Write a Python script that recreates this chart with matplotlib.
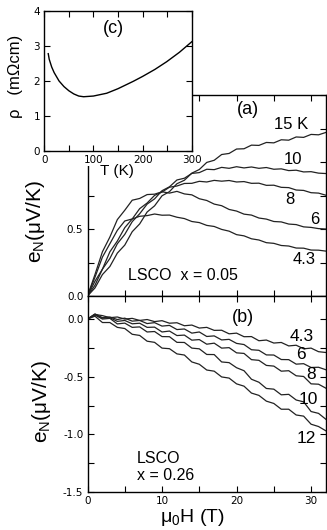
import matplotlib
matplotlib.use('Agg')
from matplotlib import pyplot as plt
from matplotlib.patches import Rectangle
from matplotlib.ticker import MultipleLocator

plt.rcParams['font.family'] = ['Liberation Sans', 'DejaVu Sans']
plt.rcParams['axes.unicode_minus'] = False
plt.rcParams['mathtext.default'] = 'regular'

# field values in tesla, 1 T steps
H = list(range(0, 33))

# panel (a): LSCO x = 0.05, e_N in uV/K
eN_a = {
    '4.3': [0, 0.14, 0.29, 0.39, 0.49, 0.56, 0.575, 0.595, 0.60, 0.612, 0.603, 0.604, 0.588, 0.578, 0.556, 0.548, 0.527,
            0.519, 0.497, 0.484, 0.458, 0.449, 0.427, 0.418, 0.398, 0.393, 0.377, 0.373, 0.358, 0.357, 0.343, 0.342, 0.335],
    '6':   [0, 0.16, 0.33, 0.44, 0.57, 0.64, 0.715, 0.728, 0.757, 0.76, 0.778, 0.768, 0.781, 0.762, 0.755, 0.726, 0.713,
            0.686, 0.674, 0.646, 0.634, 0.611, 0.604, 0.582, 0.574, 0.556, 0.553, 0.537, 0.533, 0.516, 0.512, 0.503, 0.50],
    '8':   [0, 0.11, 0.20, 0.33, 0.41, 0.51, 0.575, 0.652, 0.694, 0.751, 0.776, 0.812, 0.821, 0.84, 0.841, 0.856, 0.851,
            0.863, 0.857, 0.862, 0.851, 0.854, 0.841, 0.842, 0.826, 0.827, 0.811, 0.809, 0.791, 0.788, 0.771, 0.768, 0.752],
    '10':  [0, 0.08, 0.20, 0.28, 0.39, 0.46, 0.555, 0.614, 0.686, 0.725, 0.786, 0.815, 0.866, 0.879, 0.915, 0.921, 0.946,
            0.943, 0.96, 0.953, 0.965, 0.956, 0.963, 0.953, 0.959, 0.946, 0.949, 0.936, 0.939, 0.926, 0.928, 0.917, 0.914],
    '15':  [0, 0.06, 0.16, 0.22, 0.32, 0.38, 0.48, 0.538, 0.627, 0.673, 0.748, 0.779, 0.838, 0.864, 0.917, 0.944, 0.997,
            1.013, 1.056, 1.064, 1.097, 1.099, 1.126, 1.124, 1.146, 1.143, 1.166, 1.163, 1.187, 1.184, 1.206, 1.203, 1.221],
}
labels_a = ['15 K', '10', '8', '6', '4.3']
labels_a_pos = [(27.3, 1.28), (27.6, 1.02), (27.2, 0.72), (30.5, 0.57), (29.0, 0.27)]

# panel (b): LSCO x = 0.26
eN_b = {
    '4.3': [0.0, 0.04, 0.03, 0.012, 0.018, 0.0, 0.006, -0.012, -0.004, -0.022, -0.014, -0.036, -0.032, -0.058, -0.052, -0.078, -0.072,
            -0.098, -0.097, -0.128, -0.122, -0.153, -0.152, -0.188, -0.182, -0.208, -0.203, -0.233, -0.227, -0.258, -0.252, -0.283, -0.29],
    '6':   [0.0, 0.045, 0.012, 0.018, -0.004, 0.008, -0.018, -0.012, -0.039, -0.031, -0.061, -0.055, -0.091, -0.086, -0.122, -0.112, -0.151,
            -0.146, -0.181, -0.176, -0.211, -0.221, -0.266, -0.271, -0.311, -0.312, -0.351, -0.352, -0.391, -0.387, -0.42, -0.418, -0.44],
    '8':   [0.0, 0.04, 0.008, 0.012, -0.02, -0.012, -0.041, -0.036, -0.072, -0.07, -0.112, -0.104, -0.143, -0.139, -0.183, -0.178, -0.218,
            -0.209, -0.252, -0.248, -0.293, -0.298, -0.352, -0.358, -0.402, -0.408, -0.452, -0.448, -0.492, -0.498, -0.562, -0.565, -0.60],
    '10':  [0.0, 0.035, 0.0, 0.006, -0.042, -0.035, -0.072, -0.068, -0.112, -0.108, -0.152, -0.153, -0.202, -0.203, -0.252, -0.258, -0.307,
            -0.308, -0.372, -0.378, -0.422, -0.448, -0.522, -0.548, -0.602, -0.608, -0.657, -0.653, -0.702, -0.718, -0.802, -0.818, -0.87],
    '12':  [0.0, 0.025, -0.03, -0.03, -0.072, -0.082, -0.132, -0.142, -0.192, -0.202, -0.252, -0.257, -0.302, -0.312, -0.372, -0.392, -0.442,
            -0.452, -0.502, -0.512, -0.562, -0.582, -0.642, -0.662, -0.712, -0.732, -0.782, -0.782, -0.832, -0.842, -0.912, -0.932, -0.97],
}
labels_b = ['4.3', '6', '8', '10', '12']
labels_b_pos = [(28.7, -0.155), (28.7, -0.31), (30.0, -0.48), (29.6, -0.70), (29.4, -1.035)]

# inset (c): resistivity vs T
T_c = [8, 10, 15, 20, 25, 30, 40, 50, 60, 70, 80, 100, 127, 150, 181, 200, 225, 249, 275, 300]
rho_c = [2.78, 2.62, 2.40, 2.24, 2.12, 2.0, 1.84, 1.72, 1.63, 1.57, 1.55, 1.57, 1.65, 1.78, 1.99, 2.13, 2.33, 2.55, 2.82, 3.12]


def style_ax(ax):
    for s in ax.spines.values():
        s.set_linewidth(1.0)
    ax.tick_params(which='both', direction='in', top=True, right=True,
                   length=4, width=0.8, labelsize=7.5, pad=3,
                   labelfontfamily='DejaVu Sans')


fig = plt.figure(figsize=(3.27, 5.30), dpi=100)

ax_a = fig.add_axes([0.2676, 0.4415, 0.7293, 0.3792])
ax_b = fig.add_axes([0.2676, 0.0717, 0.7293, 0.3698])

for k in eN_a:
    ax_a.plot(H, eN_a[k], color='#222222', lw=0.9)
for t, (x, y) in zip(labels_a, labels_a_pos):
    ax_a.text(x, y, t, fontsize=12, ha='center', va='center')
ax_a.text(21.5, 1.39, '(a)', fontsize=13, ha='center', va='center')
ax_a.text(5.4, 0.15, 'LSCO  x = 0.05', fontsize=11.5, ha='left', va='center')
ax_a.set_xlim(0, 32)
ax_a.set_ylim(0, 1.5)
ax_a.xaxis.set_major_locator(MultipleLocator(5))
ax_a.yaxis.set_minor_locator(MultipleLocator(0.25))
ax_a.set_yticks([0.0, 0.5, 1.0, 1.5])
ax_a.set_yticklabels(['0.0', '0.5', '1.0', '1.5'])
style_ax(ax_a)
ax_a.tick_params(labelbottom=False)
ax_a.set_ylabel('e$_N$(μV/K)', fontsize=15)
ax_a.yaxis.set_label_coords(-0.17, 0.37)

for k in eN_b:
    ax_b.plot(H, eN_b[k], color='#222222', lw=0.9)
for t, (x, y) in zip(labels_b, labels_b_pos):
    ax_b.text(x, y, t, fontsize=12.5, ha='center', va='center')
ax_b.text(20.8, 0.01, '(b)', fontsize=13, ha='center', va='center')
ax_b.text(6.6, -1.21, 'LSCO', fontsize=11.5, ha='left', va='center')
ax_b.text(6.6, -1.357, 'x = 0.26', fontsize=11.5, ha='left', va='center')
ax_b.set_xlim(0, 32)
ax_b.set_ylim(-1.5, 0.2)
ax_b.xaxis.set_major_locator(MultipleLocator(10))
ax_b.xaxis.set_minor_locator(MultipleLocator(5))
ax_b.yaxis.set_minor_locator(MultipleLocator(0.25))
style_ax(ax_b)
ax_b.set_yticks([-1.5, -1.0, -0.5, 0.0])
ax_b.set_yticklabels(['-1.5', '-1.0', '-0.5', '0.0'])
ax_b.set_ylabel('e$_N$(μV/K)', fontsize=15)
ax_b.yaxis.set_label_coords(-0.145, 0.46)
ax_b.set_xlabel('μ$_0$H (T)', fontsize=14)
ax_b.xaxis.set_label_coords(0.438, -0.075)

# white block behind the inset, hides the top left of panel (a)
fig.patches.append(Rectangle((0, 0.687), 0.587, 0.313, transform=fig.transFigure,
                             facecolor='white', edgecolor='none', zorder=1))

ax_c = fig.add_axes([0.1355, 0.7151, 0.4508, 0.2642], zorder=2)
ax_c.plot(T_c, rho_c, color='black', lw=1.0)
ax_c.text(140, 3.51, '(c)', fontsize=13, ha='center', va='center')
ax_c.set_xlim(0, 300)
ax_c.set_ylim(0, 4)
ax_c.xaxis.set_major_locator(MultipleLocator(100))
ax_c.xaxis.set_minor_locator(MultipleLocator(50))
ax_c.yaxis.set_major_locator(MultipleLocator(1))
style_ax(ax_c)
ax_c.set_xlabel('T (K)', fontsize=11)
ax_c.xaxis.set_label_coords(0.493, -0.09)
ax_c.set_ylabel('ρ   (mΩcm)', fontsize=12)
ax_c.yaxis.set_label_coords(-0.145, 0.53)

fig.savefig('out.png', dpi=100)
